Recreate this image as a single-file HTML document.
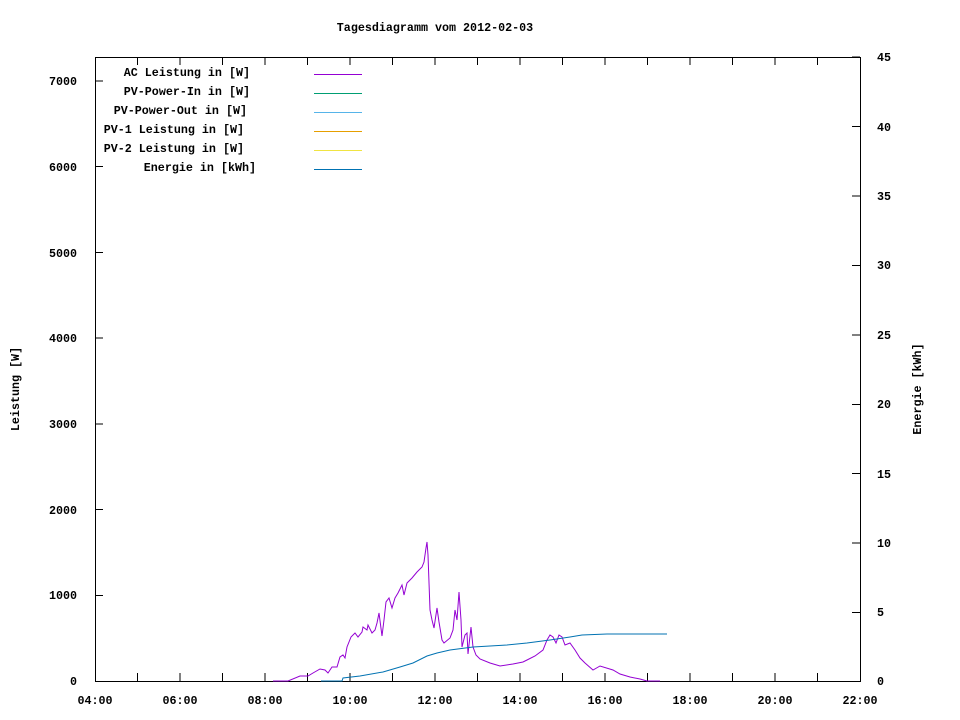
<!DOCTYPE html>
<html><head><meta charset="utf-8"><style>body{margin:0;background:#fff}svg{display:block}text{font-family:"Liberation Mono",monospace;font-size:11.7px;font-weight:bold;fill:#000}</style></head><body>
<svg width="960" height="720" xmlns="http://www.w3.org/2000/svg">
<rect width="960" height="720" fill="#fff"/>
<text x="435" y="31" text-anchor="middle">Tagesdiagramm vom 2012-02-03</text>
<rect x="95.5" y="57.5" width="765" height="624" fill="none" stroke="#000"/>
<g stroke="#000" shape-rendering="crispEdges">
<path d="M95 595.3h8M95 509.6h8M95 423.9h8M95 338.1h8M95 252.4h8M95 166.7h8M95 81h8"/>
<path d="M860 612.6h-8M860 543.1h-8M860 473.7h-8M860 404.3h-8M860 334.9h-8M860 265.4h-8M860 196h-8M860 126.6h-8M860 57.2h-8"/>
<path d="M137.5 681v-8M180 681v-8M222.5 681v-8M265 681v-8M307.5 681v-8M350 681v-8M392.5 681v-8M435 681v-8M477.5 681v-8M520 681v-8M562.5 681v-8M605 681v-8M647.5 681v-8M690 681v-8M732.5 681v-8M775 681v-8M817.5 681v-8"/>
<path d="M137.5 57v8M180 57v8M222.5 57v8M265 57v8M307.5 57v8M350 57v8M392.5 57v8M435 57v8M477.5 57v8M520 57v8M562.5 57v8M605 57v8M647.5 57v8M690 57v8M732.5 57v8M775 57v8M817.5 57v8"/>
</g>
<g text-anchor="end">
<text x="77" y="685">0</text><text x="77" y="599">1000</text><text x="77" y="514">2000</text><text x="77" y="428">3000</text><text x="77" y="342">4000</text><text x="77" y="257">5000</text><text x="77" y="171">6000</text><text x="77" y="85">7000</text>
</g>
<g>
<text x="877" y="685">0</text><text x="877" y="616">5</text><text x="877" y="547">10</text><text x="877" y="478">15</text><text x="877" y="408">20</text><text x="877" y="339">25</text><text x="877" y="269">30</text><text x="877" y="200">35</text><text x="877" y="131">40</text><text x="877" y="61">45</text>
</g>
<g text-anchor="middle">
<text x="95" y="704">04:00</text><text x="180" y="704">06:00</text><text x="265" y="704">08:00</text><text x="350" y="704">10:00</text><text x="435" y="704">12:00</text><text x="520" y="704">14:00</text><text x="605" y="704">16:00</text><text x="690" y="704">18:00</text><text x="775" y="704">20:00</text><text x="860" y="704">22:00</text>
</g>
<text transform="translate(19,389) rotate(-90)" text-anchor="middle">Leistung [W]</text>
<text transform="translate(921,389) rotate(-90)" text-anchor="middle">Energie [kWh]</text>
<g text-anchor="end">
<text x="250" y="76">AC Leistung in [W]</text>
<text x="250" y="95">PV-Power-In in [W]</text>
<text x="247" y="114">PV-Power-Out in [W]</text>
<text x="244" y="133">PV-1 Leistung in [W]</text>
<text x="244" y="152">PV-2 Leistung in [W]</text>
<text x="256" y="171">Energie in [kWh]</text>
</g>
<g shape-rendering="crispEdges">
<path d="M314 74.5h48" stroke="#9400d3"/>
<path d="M314 93.5h48" stroke="#009e73"/>
<path d="M314 112.5h48" stroke="#56b4e9"/>
<path d="M314 131.5h48" stroke="#e69f00"/>
<path d="M314 150.5h48" stroke="#f0e442"/>
<path d="M314 169.5h48" stroke="#0072b2"/>
</g>
<polyline fill="none" stroke="#9400d3" stroke-width="1" points="273,681 288,681 300,676 308,676 313,673 320,669 325,670 328,673 332,667 337,667 340,657 343,655 345,658 347,647 351,637 355,633 358,637 362,632 363,627 367,630 368,625 372,633 375,630 377,623 379,613 382,636 384,620 386,602 389,598 392,608 395,598 398,593 402,585 404,595 407,583 412,578 417,572 422,567 424,562 426,548 427,542 428,555 430,610 432,620 434,628 437,608 439,622 442,640 444,643 450,638 453,630 455,610 457,620 459,592 461,620 462,647 465,635 467,633 468,654 471,627 473,647 476,655 480,659 490,663 500,666 513,664 523,662 527,660 535,656 543,650 547,640 550,635 553,637 556,643 559,635 562,637 565,645 570,643 575,650 580,658 585,663 593,670 600,666 613,670 620,674 630,677 640,679 647,681 660,681"/>
<polyline fill="none" stroke="#0072b2" stroke-width="1" points="321,681 342,681 343,678 360,676 383,672 400,667 413,663 427,656 437,653 450,650 473,647 507,645 527,643 550,640 570,637 582,635 607,634 667,634"/>
</svg>
</body></html>
